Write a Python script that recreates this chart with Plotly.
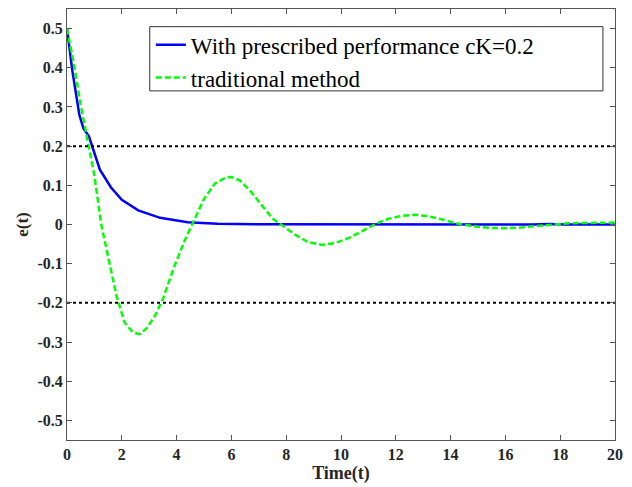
import plotly.graph_objects as go

# Error with prescribed performance (cK = 0.2)
t_pp = [0, 0.2, 0.45, 0.6, 0.8, 1.0, 1.2, 1.6, 2.0, 2.6, 3.4, 4.4, 5.5, 7.0, 10.0, 14.0, 17.0, 17.6, 18.2, 20.0]
e_pp = [0.5, 0.39, 0.28, 0.245, 0.225, 0.18, 0.14, 0.095, 0.063, 0.036, 0.017, 0.006, 0.002, 0.0005, 0.0, 0.0, 0.0, 0.0015, 0.0, 0.0]

# Error with traditional method
t_tr = [0, 0.25, 0.5, 0.7, 1.0, 1.25, 1.5, 1.8, 2.1, 2.4, 2.65, 2.9, 3.2, 3.5, 3.9,
        4.3, 4.6, 5.0, 5.4, 5.8, 6.0, 6.3, 6.7, 7.1, 7.5, 7.85, 8.3, 8.8, 9.3, 9.8,
        10.3, 10.8, 11.25, 11.7, 12.2, 12.7, 13.2, 13.7, 14.1, 14.5, 15.0, 15.5, 16.0,
        16.5, 17.0, 17.7, 18.3, 19.0, 19.5, 20.0]
e_tr = [0.5, 0.41, 0.305, 0.23, 0.125, 0.0, -0.085, -0.18, -0.25, -0.275, -0.28, -0.265,
        -0.235, -0.19, -0.11, -0.04, 0.005, 0.065, 0.105, 0.12, 0.121, 0.113, 0.085, 0.05,
        0.015, -0.002, -0.025, -0.045, -0.052, -0.047, -0.034, -0.016, 0.001, 0.014, 0.022,
        0.025, 0.021, 0.013, 0.005, -0.001, -0.006, -0.009, -0.0095, -0.008, -0.005, 0.0,
        0.003, 0.004, 0.0045, 0.005]

# Prescribed bounds
bounds = [0.2, -0.2]

x_ticks = [0, 2, 4, 6, 8, 10, 12, 14, 16, 18, 20]
y_ticks = [0.5, 0.4, 0.3, 0.2, 0.1, 0, -0.1, -0.2, -0.3, -0.4, -0.5]
y_labels = ["0.5", "0.4", "0.3", "0.2", "0.1", "0", "-0.1", "-0.2", "-0.3", "-0.4", "-0.5"]

SERIF = "Liberation Serif, Times New Roman, serif"

fig = go.Figure()

fig.add_trace(
    go.Scatter(
        x=t_pp,
        y=e_pp,
        mode="lines",
        name="With prescribed performance cK=0.2",
        line=dict(color="#0000ff", width=2.5),
    )
)

fig.add_trace(
    go.Scatter(
        x=t_tr,
        y=e_tr,
        mode="lines",
        name="traditional method",
        line=dict(color="#00ff00", width=2.5, dash="6px,3px"),
    )
)

# Dotted bound lines
for b in bounds:
    fig.add_trace(
        go.Scatter(
            x=[x_ticks[0], x_ticks[-1]],
            y=[b, b],
            mode="lines",
            showlegend=False,
            line=dict(color="black", width=2, dash="dot"),
        )
    )

axis_style = dict(
    showgrid=False,
    zeroline=False,
    showline=True,
    linecolor="#555555",
    linewidth=1,
    mirror="ticks",
    ticks="inside",
    ticklen=5,
    tickcolor="#555555",
    automargin=False,
    tickfont=dict(family=SERIF, size=16, color="#262626", weight="bold"),
)

# Legend frame drawn as a shape so it can be as wide as in the original
fig.add_shape(
    type="rect",
    xref="paper",
    yref="paper",
    x0=0.151,
    x1=0.978,
    y0=0.81,
    y1=0.959,
    line=dict(color="#333333", width=1),
    fillcolor="white",
    layer="above",
)

# page body has an 8px margin, so the figure is a bit smaller than the window
fig.update_layout(
    width=624,
    height=479,
    margin=dict(l=59, r=17, t=1, b=47),
    plot_bgcolor="white",
    paper_bgcolor="white",
    font=dict(family=SERIF, color="#262626"),
    xaxis=dict(
        range=[0, 20],
        tickvals=x_ticks,
        title=dict(text="<b>Time(t)</b>", font=dict(family=SERIF, size=18), standoff=2),
        **axis_style,
    ),
    yaxis=dict(
        range=[-0.55, 0.55],
        tickvals=y_ticks,
        ticktext=y_labels,
        title=dict(text="<b>e(t)</b>", font=dict(family=SERIF, size=17), standoff=4),
        **axis_style,
    ),
    legend=dict(
        x=0.153,
        y=0.967,
        xanchor="left",
        yanchor="top",
        bgcolor="rgba(0,0,0,0)",
        borderwidth=0,
        font=dict(family=SERIF, size=23, color="black"),
    ),
)

fig.write_html("out.html")
